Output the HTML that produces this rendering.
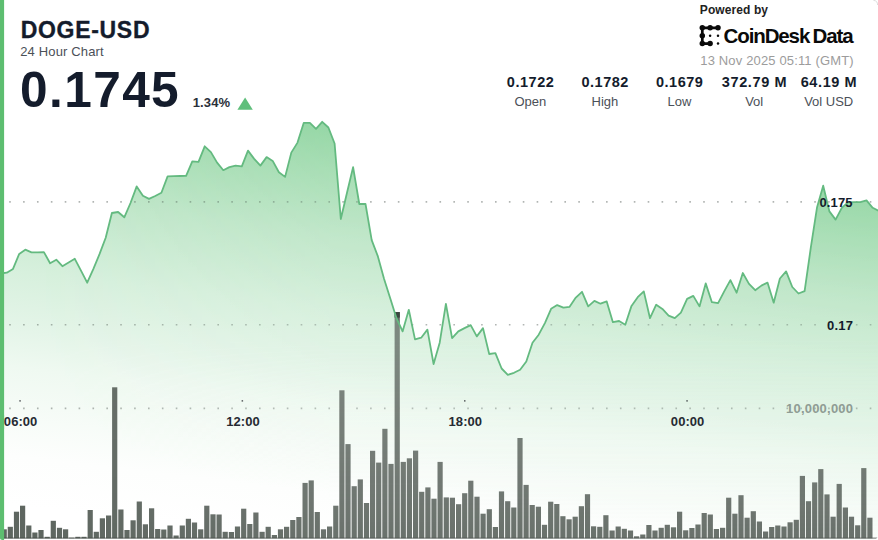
<!DOCTYPE html>
<html lang="en">
<head>
<meta charset="utf-8">
<title>DOGE-USD 24 Hour Chart</title>
<style>
html,body{margin:0;padding:0;background:#fff;}
body{width:878px;height:540px;overflow:hidden;font-family:"Liberation Sans", Arial, sans-serif;}
svg{display:block;font-family:"Liberation Sans", Arial, sans-serif;}
</style>
</head>
<body>
<svg width="878" height="540" viewBox="0 0 878 540">
<defs>
<linearGradient id="ag" gradientUnits="userSpaceOnUse" x1="315" y1="122" x2="265.3" y2="536"><stop offset="0.000" stop-color="#96d7a6"/><stop offset="0.107" stop-color="#a8deb5"/><stop offset="0.262" stop-color="#c1e7ca"/><stop offset="0.440" stop-color="#d7f0dd"/><stop offset="0.583" stop-color="#e5f5e9"/><stop offset="0.669" stop-color="#eff9f1"/><stop offset="0.881" stop-color="#fdfefd"/><stop offset="1.000" stop-color="#ffffff"/></linearGradient>
<linearGradient id="gh" gradientUnits="userSpaceOnUse" x1="30" y1="0" x2="330" y2="0"><stop offset="0" stop-color="#fff" stop-opacity="0"/><stop offset="1" stop-color="#fff" stop-opacity="0.25"/></linearGradient>
<linearGradient id="gv" gradientUnits="userSpaceOnUse" x1="0" y1="340" x2="0" y2="540"><stop offset="0" stop-color="#fff" stop-opacity="1"/><stop offset="0.4" stop-color="#fff" stop-opacity="0.68"/><stop offset="0.575" stop-color="#fff" stop-opacity="0.6"/><stop offset="0.8" stop-color="#fff" stop-opacity="0.45"/><stop offset="1" stop-color="#fff" stop-opacity="0.3"/></linearGradient>
<mask id="mh" style="mask-type:alpha" maskUnits="userSpaceOnUse" x="0" y="0" width="878" height="540"><rect width="878" height="540" fill="url(#gh)"/></mask>
<mask id="mv" style="mask-type:alpha" maskUnits="userSpaceOnUse" x="0" y="0" width="878" height="540"><rect width="878" height="540" fill="url(#gv)"/></mask>
<clipPath id="card"><path d="M0 0 H873 Q878 0 878 5 V534 Q878 540 872 540 H2.5 Q0 540 0 537.5 Z"/></clipPath>
</defs>
<rect width="878" height="540" fill="#fff"/>
<g clip-path="url(#card)">
<!-- price area -->
<path d="M0.6 273.5 L6.8 272.7 L13 268.9 L19.2 253.9 L25.3 249.7 L31.5 252.4 L37.7 252.3 L43.9 252.1 L50.1 263.2 L56.3 259.7 L62.4 266.2 L68.6 262.5 L74.8 258.8 L81 270.7 L87.2 282.7 L93.4 268.9 L99.6 253.9 L105.7 237.7 L111.9 213 L118.1 212 L124.3 217.3 L130.5 203 L136.7 186.4 L142.9 195.7 L149 198.9 L155.2 196 L161.4 192.7 L167.6 176.4 L173.8 176.2 L180 176 L186.1 175.9 L192.3 161.3 L198.5 161.8 L204.7 146.3 L210.9 152.1 L217.1 162.6 L223.3 170.2 L229.4 167.1 L235.6 165.6 L241.8 166.4 L248 150.6 L254.2 158.9 L260.4 165.6 L266.6 157.1 L272.7 160.9 L278.9 172.2 L285.1 176.9 L291.3 152.6 L297.5 142.6 L303.7 122.9 L309.9 122.9 L316 128.8 L322.2 121.8 L328.4 127.5 L334.6 143.5 L340.8 219 L347 192.7 L353.1 167.1 L359.3 204 L365.5 204 L371.7 240.1 L377.9 256.4 L384.1 279 L390.3 298.5 L396.4 318 L402.6 331.4 L408.8 309.8 L415 339.4 L421.2 337.7 L427.4 329.6 L433.6 364 L439.7 342.7 L445.9 303.9 L452.1 338.2 L458.3 331.4 L464.5 328.1 L470.7 325.1 L476.8 336.4 L483 328.1 L489.2 354 L495.4 353.2 L501.6 368.5 L507.8 374.8 L514 372.8 L520.1 369.7 L526.3 361.5 L532.5 342.7 L538.7 334.7 L544.9 323.1 L551.1 308.8 L557.2 305.1 L563.4 307.6 L569.6 306.8 L575.8 297.6 L582 291.8 L588.2 306.4 L594.4 300.9 L600.5 303.7 L606.7 301.4 L612.9 322.2 L619.1 321 L625.3 324.7 L631.5 305.9 L637.7 297.2 L643.8 291.4 L650 318.2 L656.2 304.7 L662.4 308.9 L668.6 315.7 L674.8 318.2 L680.9 312.7 L687.1 298.9 L693.3 295.9 L699.5 306.4 L705.7 283.4 L711.9 302.2 L718.1 303.2 L724.2 291.4 L730.4 280.1 L736.6 292.7 L742.8 273 L749 283.9 L755.2 290.2 L761.4 285.6 L767.5 282.6 L773.7 302.7 L779.9 278.5 L786.1 271.4 L792.3 287 L798.5 293.5 L804.6 291.1 L810.8 247.7 L817 207.6 L823.2 185.7 L829.4 211.4 L835.6 219.6 L841.8 207.8 L847.9 202.4 L854.1 202.2 L860.3 202.1 L866.5 200.4 L872.7 207.8 L878.9 211 L878.9 540 L0.6 540 Z" fill="url(#ag)"/>
<!-- grid lines -->
<line x1="9.2" y1="201.9" x2="878" y2="201.9" stroke="#3c4640" stroke-opacity="0.4" stroke-width="1.6" stroke-dasharray="1.6 12.28" stroke-linecap="butt"/>
<line x1="9.2" y1="324.7" x2="878" y2="324.7" stroke="#3c4640" stroke-opacity="0.4" stroke-width="1.6" stroke-dasharray="1.6 12.28" stroke-linecap="butt"/>
<line x1="9.2" y1="408.4" x2="878" y2="408.4" stroke="#3c4640" stroke-opacity="0.4" stroke-width="1.6" stroke-dasharray="1.6 12.28" stroke-linecap="butt"/>
<!-- volume bars -->
<g fill="#5e6660"><rect x="1.6" y="529.3" width="5.2" height="9"/><rect x="7.7" y="526.8" width="5.2" height="11.5"/><rect x="13.9" y="511.7" width="5.2" height="26.6"/><rect x="20" y="505.7" width="5.2" height="32.6"/><rect x="26.2" y="525.5" width="5.2" height="12.8"/><rect x="32.3" y="532.5" width="5.2" height="5.8"/><rect x="38.4" y="530" width="5.2" height="8.3"/><rect x="44.6" y="536.8" width="5.2" height="1.5"/><rect x="50.7" y="520.8" width="5.2" height="17.5"/><rect x="56.9" y="527.8" width="5.2" height="10.5"/><rect x="63" y="529.3" width="5.2" height="9"/><rect x="69.1" y="537.7" width="5.2" height="0.6"/><rect x="75.3" y="536.8" width="5.2" height="1.5"/><rect x="81.4" y="536.8" width="5.2" height="1.5"/><rect x="87.6" y="510" width="5.2" height="28.3"/><rect x="93.7" y="531.8" width="5.2" height="6.5"/><rect x="99.8" y="518.3" width="5.2" height="20"/><rect x="106" y="515.5" width="5.2" height="22.8"/><rect x="112.1" y="387.3" width="5.2" height="151"/><rect x="118.3" y="509.5" width="5.2" height="28.8"/><rect x="124.4" y="530" width="5.2" height="8.3"/><rect x="130.5" y="520.3" width="5.2" height="18"/><rect x="136.7" y="501.5" width="5.2" height="36.8"/><rect x="142.8" y="524.3" width="5.2" height="14"/><rect x="149" y="508.3" width="5.2" height="30"/><rect x="155.1" y="529" width="5.2" height="9.3"/><rect x="161.2" y="529.5" width="5.2" height="8.8"/><rect x="167.4" y="525.5" width="5.2" height="12.8"/><rect x="173.5" y="535.5" width="5.2" height="2.8"/><rect x="179.7" y="525.5" width="5.2" height="12.8"/><rect x="185.8" y="518.8" width="5.2" height="19.5"/><rect x="191.9" y="522.5" width="5.2" height="15.8"/><rect x="198.1" y="529.3" width="5.2" height="9"/><rect x="204.2" y="505.7" width="5.2" height="32.6"/><rect x="210.4" y="514.3" width="5.2" height="24"/><rect x="216.5" y="514.5" width="5.2" height="23.8"/><rect x="222.6" y="531.8" width="5.2" height="6.5"/><rect x="228.8" y="532" width="5.2" height="6.3"/><rect x="234.9" y="526.5" width="5.2" height="11.8"/><rect x="241.1" y="508.7" width="5.2" height="29.6"/><rect x="247.2" y="524" width="5.2" height="14.3"/><rect x="253.3" y="512.5" width="5.2" height="25.8"/><rect x="259.5" y="531.8" width="5.2" height="6.5"/><rect x="265.6" y="526.8" width="5.2" height="11.5"/><rect x="271.8" y="535" width="5.2" height="3.3"/><rect x="277.9" y="529.3" width="5.2" height="9"/><rect x="284" y="526.8" width="5.2" height="11.5"/><rect x="290.2" y="520" width="5.2" height="18.3"/><rect x="296.3" y="517" width="5.2" height="21.3"/><rect x="302.5" y="482.9" width="5.2" height="55.4"/><rect x="308.6" y="480.4" width="5.2" height="57.9"/><rect x="314.7" y="512" width="5.2" height="26.3"/><rect x="320.9" y="529.3" width="5.2" height="9"/><rect x="327" y="526.5" width="5.2" height="11.8"/><rect x="333.2" y="505.7" width="5.2" height="32.6"/><rect x="339.3" y="390.3" width="5.2" height="148"/><rect x="345.4" y="444.1" width="5.2" height="94.2"/><rect x="351.6" y="486.2" width="5.2" height="52.1"/><rect x="357.7" y="479.4" width="5.2" height="58.9"/><rect x="363.9" y="503" width="5.2" height="35.3"/><rect x="370" y="450.8" width="5.2" height="87.5"/><rect x="376.1" y="462.6" width="5.2" height="75.7"/><rect x="382.3" y="428.8" width="5.2" height="109.5"/><rect x="388.4" y="463.9" width="5.2" height="74.4"/><rect x="394.6" y="312" width="5.2" height="226.3"/><rect x="400.7" y="461.9" width="5.2" height="76.4"/><rect x="406.8" y="458.3" width="5.2" height="80"/><rect x="413" y="450.6" width="5.2" height="87.7"/><rect x="419.1" y="491.8" width="5.2" height="46.5"/><rect x="425.3" y="487.4" width="5.2" height="50.9"/><rect x="431.4" y="498.7" width="5.2" height="39.6"/><rect x="437.5" y="461.9" width="5.2" height="76.4"/><rect x="443.7" y="497.4" width="5.2" height="40.9"/><rect x="449.8" y="497.7" width="5.2" height="40.6"/><rect x="456" y="504.2" width="5.2" height="34.1"/><rect x="462.1" y="493.2" width="5.2" height="45.1"/><rect x="468.2" y="480.7" width="5.2" height="57.6"/><rect x="474.4" y="496.7" width="5.2" height="41.6"/><rect x="480.5" y="513.7" width="5.2" height="24.6"/><rect x="486.7" y="509.2" width="5.2" height="29.1"/><rect x="492.8" y="527" width="5.2" height="11.3"/><rect x="498.9" y="491.4" width="5.2" height="46.9"/><rect x="505.1" y="501.2" width="5.2" height="37.1"/><rect x="511.2" y="507.5" width="5.2" height="30.8"/><rect x="517.4" y="438" width="5.2" height="100.3"/><rect x="523.5" y="484.9" width="5.2" height="53.4"/><rect x="529.6" y="505" width="5.2" height="33.3"/><rect x="535.8" y="506.7" width="5.2" height="31.6"/><rect x="541.9" y="524.8" width="5.2" height="13.5"/><rect x="548.1" y="501.7" width="5.2" height="36.6"/><rect x="554.2" y="504" width="5.2" height="34.3"/><rect x="560.3" y="516.2" width="5.2" height="22.1"/><rect x="566.5" y="519.3" width="5.2" height="19"/><rect x="572.6" y="516.7" width="5.2" height="21.6"/><rect x="578.8" y="506.2" width="5.2" height="32.1"/><rect x="584.9" y="494.2" width="5.2" height="44.1"/><rect x="591" y="526.3" width="5.2" height="12"/><rect x="597.2" y="526.8" width="5.2" height="11.5"/><rect x="603.3" y="515.2" width="5.2" height="23.1"/><rect x="609.5" y="530.5" width="5.2" height="7.8"/><rect x="615.6" y="526.5" width="5.2" height="11.8"/><rect x="621.7" y="528.8" width="5.2" height="9.5"/><rect x="627.9" y="530.5" width="5.2" height="7.8"/><rect x="634" y="536.3" width="5.2" height="2"/><rect x="640.2" y="534.5" width="5.2" height="3.8"/><rect x="646.3" y="525" width="5.2" height="13.3"/><rect x="652.4" y="530.5" width="5.2" height="7.8"/><rect x="658.6" y="527.8" width="5.2" height="10.5"/><rect x="664.7" y="524.8" width="5.2" height="13.5"/><rect x="670.9" y="527.3" width="5.2" height="11"/><rect x="677" y="511.7" width="5.2" height="26.6"/><rect x="683.1" y="530.3" width="5.2" height="8"/><rect x="689.3" y="528" width="5.2" height="10.3"/><rect x="695.4" y="524.5" width="5.2" height="13.8"/><rect x="701.6" y="513" width="5.2" height="25.3"/><rect x="707.7" y="514.5" width="5.2" height="23.8"/><rect x="713.8" y="529" width="5.2" height="9.3"/><rect x="720" y="527.8" width="5.2" height="10.5"/><rect x="726.1" y="497.7" width="5.2" height="40.6"/><rect x="732.3" y="513.7" width="5.2" height="24.6"/><rect x="738.4" y="495.2" width="5.2" height="43.1"/><rect x="744.5" y="517.7" width="5.2" height="20.6"/><rect x="750.7" y="511.2" width="5.2" height="27.1"/><rect x="756.8" y="521.5" width="5.2" height="16.8"/><rect x="763" y="531.5" width="5.2" height="6.8"/><rect x="769.1" y="527" width="5.2" height="11.3"/><rect x="775.2" y="525.5" width="5.2" height="12.8"/><rect x="781.4" y="526.5" width="5.2" height="11.8"/><rect x="787.5" y="522.3" width="5.2" height="16"/><rect x="793.7" y="519.8" width="5.2" height="18.5"/><rect x="799.8" y="475.9" width="5.2" height="62.4"/><rect x="805.9" y="501.2" width="5.2" height="37.1"/><rect x="812.1" y="482.4" width="5.2" height="55.9"/><rect x="818.2" y="469.1" width="5.2" height="69.2"/><rect x="824.4" y="494.4" width="5.2" height="43.9"/><rect x="830.5" y="516.7" width="5.2" height="21.6"/><rect x="836.6" y="483.9" width="5.2" height="54.4"/><rect x="842.8" y="507.5" width="5.2" height="30.8"/><rect x="848.9" y="516.7" width="5.2" height="21.6"/><rect x="855.1" y="525.3" width="5.2" height="13"/><rect x="861.2" y="468.1" width="5.2" height="70.2"/><rect x="867.3" y="517.7" width="5.2" height="20.6"/></g>
<rect x="0" y="537.6" width="878" height="1" fill="#3f4541" opacity="0.8"/>
<g mask="url(#mv)"><path d="M0.6 273.5 L6.8 272.7 L13 268.9 L19.2 253.9 L25.3 249.7 L31.5 252.4 L37.7 252.3 L43.9 252.1 L50.1 263.2 L56.3 259.7 L62.4 266.2 L68.6 262.5 L74.8 258.8 L81 270.7 L87.2 282.7 L93.4 268.9 L99.6 253.9 L105.7 237.7 L111.9 213 L118.1 212 L124.3 217.3 L130.5 203 L136.7 186.4 L142.9 195.7 L149 198.9 L155.2 196 L161.4 192.7 L167.6 176.4 L173.8 176.2 L180 176 L186.1 175.9 L192.3 161.3 L198.5 161.8 L204.7 146.3 L210.9 152.1 L217.1 162.6 L223.3 170.2 L229.4 167.1 L235.6 165.6 L241.8 166.4 L248 150.6 L254.2 158.9 L260.4 165.6 L266.6 157.1 L272.7 160.9 L278.9 172.2 L285.1 176.9 L291.3 152.6 L297.5 142.6 L303.7 122.9 L309.9 122.9 L316 128.8 L322.2 121.8 L328.4 127.5 L334.6 143.5 L340.8 219 L347 192.7 L353.1 167.1 L359.3 204 L365.5 204 L371.7 240.1 L377.9 256.4 L384.1 279 L390.3 298.5 L396.4 318 L402.6 331.4 L408.8 309.8 L415 339.4 L421.2 337.7 L427.4 329.6 L433.6 364 L439.7 342.7 L445.9 303.9 L452.1 338.2 L458.3 331.4 L464.5 328.1 L470.7 325.1 L476.8 336.4 L483 328.1 L489.2 354 L495.4 353.2 L501.6 368.5 L507.8 374.8 L514 372.8 L520.1 369.7 L526.3 361.5 L532.5 342.7 L538.7 334.7 L544.9 323.1 L551.1 308.8 L557.2 305.1 L563.4 307.6 L569.6 306.8 L575.8 297.6 L582 291.8 L588.2 306.4 L594.4 300.9 L600.5 303.7 L606.7 301.4 L612.9 322.2 L619.1 321 L625.3 324.7 L631.5 305.9 L637.7 297.2 L643.8 291.4 L650 318.2 L656.2 304.7 L662.4 308.9 L668.6 315.7 L674.8 318.2 L680.9 312.7 L687.1 298.9 L693.3 295.9 L699.5 306.4 L705.7 283.4 L711.9 302.2 L718.1 303.2 L724.2 291.4 L730.4 280.1 L736.6 292.7 L742.8 273 L749 283.9 L755.2 290.2 L761.4 285.6 L767.5 282.6 L773.7 302.7 L779.9 278.5 L786.1 271.4 L792.3 287 L798.5 293.5 L804.6 291.1 L810.8 247.7 L817 207.6 L823.2 185.7 L829.4 211.4 L835.6 219.6 L841.8 207.8 L847.9 202.4 L854.1 202.2 L860.3 202.1 L866.5 200.4 L872.7 207.8 L878.9 211 L878.9 540 L0.6 540 Z" fill="url(#ag)" mask="url(#mh)"/></g>
<rect x="394.6" y="312.1" width="5.2" height="5.5" fill="#3b463f"/>
<!-- price line -->
<path d="M0.6 273.5 L6.8 272.7 L13 268.9 L19.2 253.9 L25.3 249.7 L31.5 252.4 L37.7 252.3 L43.9 252.1 L50.1 263.2 L56.3 259.7 L62.4 266.2 L68.6 262.5 L74.8 258.8 L81 270.7 L87.2 282.7 L93.4 268.9 L99.6 253.9 L105.7 237.7 L111.9 213 L118.1 212 L124.3 217.3 L130.5 203 L136.7 186.4 L142.9 195.7 L149 198.9 L155.2 196 L161.4 192.7 L167.6 176.4 L173.8 176.2 L180 176 L186.1 175.9 L192.3 161.3 L198.5 161.8 L204.7 146.3 L210.9 152.1 L217.1 162.6 L223.3 170.2 L229.4 167.1 L235.6 165.6 L241.8 166.4 L248 150.6 L254.2 158.9 L260.4 165.6 L266.6 157.1 L272.7 160.9 L278.9 172.2 L285.1 176.9 L291.3 152.6 L297.5 142.6 L303.7 122.9 L309.9 122.9 L316 128.8 L322.2 121.8 L328.4 127.5 L334.6 143.5 L340.8 219 L347 192.7 L353.1 167.1 L359.3 204 L365.5 204 L371.7 240.1 L377.9 256.4 L384.1 279 L390.3 298.5 L396.4 318 L402.6 331.4 L408.8 309.8 L415 339.4 L421.2 337.7 L427.4 329.6 L433.6 364 L439.7 342.7 L445.9 303.9 L452.1 338.2 L458.3 331.4 L464.5 328.1 L470.7 325.1 L476.8 336.4 L483 328.1 L489.2 354 L495.4 353.2 L501.6 368.5 L507.8 374.8 L514 372.8 L520.1 369.7 L526.3 361.5 L532.5 342.7 L538.7 334.7 L544.9 323.1 L551.1 308.8 L557.2 305.1 L563.4 307.6 L569.6 306.8 L575.8 297.6 L582 291.8 L588.2 306.4 L594.4 300.9 L600.5 303.7 L606.7 301.4 L612.9 322.2 L619.1 321 L625.3 324.7 L631.5 305.9 L637.7 297.2 L643.8 291.4 L650 318.2 L656.2 304.7 L662.4 308.9 L668.6 315.7 L674.8 318.2 L680.9 312.7 L687.1 298.9 L693.3 295.9 L699.5 306.4 L705.7 283.4 L711.9 302.2 L718.1 303.2 L724.2 291.4 L730.4 280.1 L736.6 292.7 L742.8 273 L749 283.9 L755.2 290.2 L761.4 285.6 L767.5 282.6 L773.7 302.7 L779.9 278.5 L786.1 271.4 L792.3 287 L798.5 293.5 L804.6 291.1 L810.8 247.7 L817 207.6 L823.2 185.7 L829.4 211.4 L835.6 219.6 L841.8 207.8 L847.9 202.4 L854.1 202.2 L860.3 202.1 L866.5 200.4 L872.7 207.8 L878.9 211" fill="none" stroke="#64ba80" stroke-width="1.8" stroke-linejoin="round" stroke-linecap="round"/>
<!-- left accent -->
<rect x="0" y="0" width="4.1" height="540" fill="#5dbe70"/>
</g>
<!-- axis labels -->
<g fill="#30343a"><rect x="19.3" y="400.3" width="1.5" height="1.2"/><rect x="241.6" y="400.3" width="1.5" height="1.2"/><rect x="464" y="400.3" width="1.5" height="1.2"/><rect x="686.3" y="400.3" width="1.5" height="1.2"/></g>
<path d="M873.5 0.4 Q877.6 0.6 877.6 5" fill="none" stroke="#dcdcdc" stroke-width="1"/>
<text x="20.6" y="426.4" font-size="13" font-weight="700" fill="#262a32" text-anchor="middle" textLength="33.5" lengthAdjust="spacing">06:00</text>
<text x="243" y="426.4" font-size="13" font-weight="700" fill="#262a32" text-anchor="middle" textLength="33.5" lengthAdjust="spacing">12:00</text>
<text x="465.3" y="426.4" font-size="13" font-weight="700" fill="#262a32" text-anchor="middle" textLength="33.5" lengthAdjust="spacing">18:00</text>
<text x="687.6" y="426.4" font-size="13" font-weight="700" fill="#262a32" text-anchor="middle" textLength="33.5" lengthAdjust="spacing">00:00</text>
<rect x="0" y="415" width="4.1" height="14" fill="#5dbe70"/>
<text x="852.6" y="206.7" font-size="13" font-weight="700" fill="#141c2c" text-anchor="end" textLength="33.2" lengthAdjust="spacing">0.175</text>
<text x="853" y="330.1" font-size="13" font-weight="700" fill="#141c2c" text-anchor="end" textLength="26" lengthAdjust="spacing">0.17</text>
<text x="853" y="413.1" font-size="13" font-weight="700" fill="#8f9c94" text-anchor="end" textLength="67" lengthAdjust="spacing">10,000,000</text>
<!-- header left -->
<text x="20.7" y="38.3" font-size="23" font-weight="700" fill="#141c2c" textLength="128.8" lengthAdjust="spacing" stroke="#141c2c" stroke-width="0.35">DOGE-USD</text>
<text x="20.2" y="55.6" font-size="13" font-weight="400" fill="#4b5058" textLength="83.5" lengthAdjust="spacing">24 Hour Chart</text>
<text x="20.1" y="107.3" font-size="49.6" font-weight="700" fill="#141c2c" textLength="158.6" lengthAdjust="spacing">0.1745</text>
<text x="192.8" y="107.3" font-size="13" font-weight="700" fill="#2a303a" textLength="37.2" lengthAdjust="spacing">1.34%</text>
<path d="M237.4 109.7 L252.8 109.7 L245.1 97.4 Z" fill="#60bf7c"/>
<!-- header right -->
<text x="699.8" y="14" font-size="12" font-weight="700" fill="#222" textLength="68.2" lengthAdjust="spacing">Powered by</text>
<path d="M718.0 27.8 L702.3 27.8 L702.3 43.6 L710.1 43.6" fill="none" stroke="#0a0a0a" stroke-width="2.7" stroke-linejoin="round" stroke-linecap="round"/><circle cx="702.3" cy="27.8" r="2.75" fill="#0a0a0a"/><circle cx="710.1" cy="27.8" r="2.75" fill="#0a0a0a"/><circle cx="718.0" cy="27.8" r="2.75" fill="#0a0a0a"/><circle cx="702.3" cy="35.7" r="2.75" fill="#0a0a0a"/><circle cx="702.3" cy="43.6" r="2.75" fill="#0a0a0a"/><circle cx="710.1" cy="43.6" r="2.75" fill="#0a0a0a"/><circle cx="710.1" cy="35.7" r="1.25" fill="#0a0a0a"/><circle cx="718.0" cy="35.7" r="1.25" fill="#0a0a0a"/><circle cx="718.0" cy="43.6" r="1.25" fill="#0a0a0a"/>
<text x="723.6" y="42.9" font-size="20.5" font-weight="700" fill="#0a0a0a" style="letter-spacing:-1.12px;word-spacing:-1.3px">CoinDesk Data</text>
<text x="700.3" y="65.4" font-size="13" font-weight="400" fill="#9c9c9c" textLength="153.4" lengthAdjust="spacing">13 Nov 2025 05:11 (GMT)</text>
<text x="530.3" y="86.9" font-size="14.5" font-weight="700" fill="#141c2c" text-anchor="middle" textLength="47" lengthAdjust="spacing">0.1722</text><text x="530.3" y="105.6" font-size="13" font-weight="400" fill="#4b5058" text-anchor="middle">Open</text><text x="604.9" y="86.9" font-size="14.5" font-weight="700" fill="#141c2c" text-anchor="middle" textLength="47" lengthAdjust="spacing">0.1782</text><text x="604.9" y="105.6" font-size="13" font-weight="400" fill="#4b5058" text-anchor="middle">High</text><text x="679.4" y="86.9" font-size="14.5" font-weight="700" fill="#141c2c" text-anchor="middle" textLength="47" lengthAdjust="spacing">0.1679</text><text x="679.4" y="105.6" font-size="13" font-weight="400" fill="#4b5058" text-anchor="middle">Low</text><text x="754.2" y="86.9" font-size="14.5" font-weight="700" fill="#141c2c" text-anchor="middle" textLength="65" lengthAdjust="spacing">372.79 M</text><text x="754.2" y="105.6" font-size="13" font-weight="400" fill="#4b5058" text-anchor="middle">Vol</text><text x="828.7" y="86.9" font-size="14.5" font-weight="700" fill="#141c2c" text-anchor="middle" textLength="56" lengthAdjust="spacing">64.19 M</text><text x="828.7" y="105.6" font-size="13" font-weight="400" fill="#4b5058" text-anchor="middle">Vol USD</text>
</svg>
</body>
</html>
